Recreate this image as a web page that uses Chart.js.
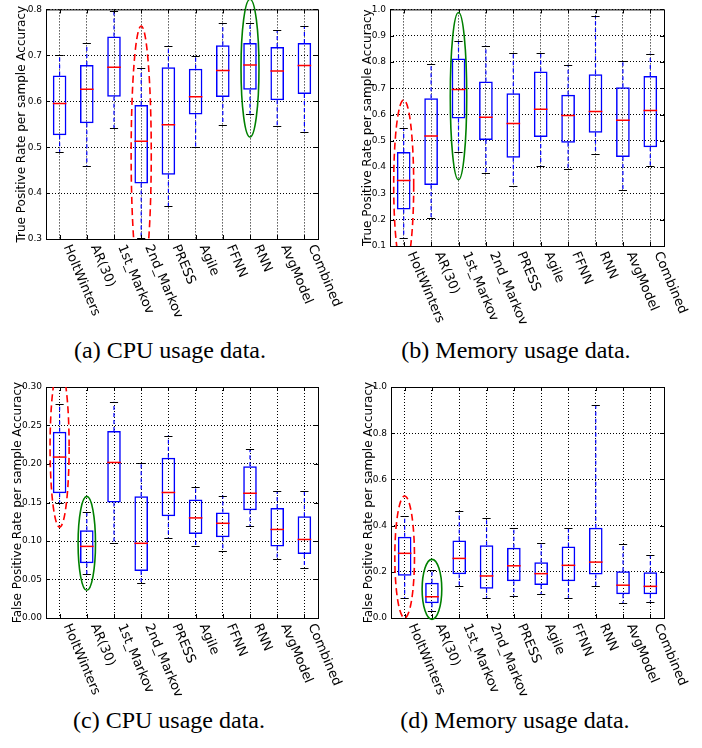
<!DOCTYPE html>
<html>
<head>
<meta charset="utf-8">
<script src="https://cdn.jsdelivr.net/npm/chart.js@4.4.1/dist/chart.umd.min.js"></script>
<style>
  body { margin: 0; background: #fff; width: 702px; height: 748px; position: relative; overflow: hidden; }
  canvas { position: absolute; }
  .cap { position: absolute; width: 300px; text-align: center; font: 24px 'Liberation Serif', 'Times New Roman', serif; line-height: 24px; color: #000; white-space: nowrap; }
</style>
</head>
<body>
<canvas id="cpuTpr" width="351" height="335" style="left:0;top:0"></canvas>
<canvas id="memTpr" width="351" height="335" style="left:351px;top:0"></canvas>
<canvas id="cpuFpr" width="351" height="335" style="left:0;top:370px"></canvas>
<canvas id="memFpr" width="351" height="335" style="left:351px;top:370px"></canvas>
<div class="cap" style="left:20px;top:338px">(a) CPU usage data.</div>
<div class="cap" style="left:366px;top:338px">(b) Memory usage data.</div>
<div class="cap" style="left:19px;top:708px">(c) CPU usage data.</div>
<div class="cap" style="left:365px;top:708px">(d) Memory usage data.</div>
<script>
const categories = ['HoltWinters', 'AR(30)', '1st_Markov', '2nd_Markov', 'PRESS', 'Agile', 'FFNN', 'RNN', 'AvgModel', 'Combined'];

// (a) CPU - true positive rate
const cpuTprLow  = [0.490, 0.458, 0.541, 0.303, 0.371, 0.501, 0.549, 0.573, 0.547, 0.534];
const cpuTprQ1   = [0.526, 0.552, 0.610, 0.421, 0.440, 0.571, 0.609, 0.625, 0.602, 0.616];
const cpuTprMed  = [0.595, 0.626, 0.674, 0.513, 0.549, 0.610, 0.667, 0.679, 0.666, 0.678];
const cpuTprQ3   = [0.656, 0.679, 0.741, 0.592, 0.674, 0.671, 0.722, 0.727, 0.718, 0.727];
const cpuTprHigh = [0.700, 0.727, 0.796, 0.672, 0.721, 0.698, 0.770, 0.770, 0.755, 0.764];

// (b) memory - true positive rate
const memTprLow  = [0.131, 0.207, 0.459, 0.378, 0.329, 0.406, 0.393, 0.451, 0.314, 0.406];
const memTprQ1   = [0.239, 0.332, 0.585, 0.503, 0.436, 0.515, 0.493, 0.531, 0.439, 0.476];
const memTprMed  = [0.349, 0.518, 0.695, 0.590, 0.566, 0.620, 0.596, 0.612, 0.578, 0.615];
const memTprQ3   = [0.458, 0.662, 0.813, 0.726, 0.681, 0.764, 0.675, 0.753, 0.704, 0.747];
const memTprHigh = [0.548, 0.794, 0.881, 0.862, 0.834, 0.834, 0.789, 0.976, 0.804, 0.832];

// (c) CPU - false positive rate
const cpuFprLow  = [0.150, 0.057, 0.097, 0.046, 0.104, 0.094, 0.087, 0.119, 0.077, 0.065];
const cpuFprQ1   = [0.162, 0.071, 0.150, 0.061, 0.132, 0.109, 0.105, 0.140, 0.093, 0.083];
const cpuFprMed  = [0.209, 0.093, 0.202, 0.097, 0.163, 0.130, 0.123, 0.162, 0.115, 0.102];
const cpuFprQ3   = [0.242, 0.114, 0.243, 0.158, 0.208, 0.154, 0.137, 0.197, 0.143, 0.132];
const cpuFprHigh = [0.278, 0.138, 0.281, 0.201, 0.237, 0.170, 0.159, 0.219, 0.165, 0.165];

// (d) memory - false positive rate
const memFprLow  = [0.087, 0.030, 0.140, 0.088, 0.094, 0.103, 0.085, 0.137, 0.064, 0.068];
const memFprQ1   = [0.183, 0.064, 0.189, 0.127, 0.159, 0.143, 0.159, 0.188, 0.103, 0.103];
const memFprMed  = [0.280, 0.092, 0.258, 0.182, 0.226, 0.192, 0.228, 0.242, 0.142, 0.137];
const memFprQ3   = [0.352, 0.153, 0.335, 0.315, 0.304, 0.241, 0.309, 0.391, 0.202, 0.198];
const memFprHigh = [0.440, 0.206, 0.462, 0.434, 0.391, 0.326, 0.391, 0.922, 0.322, 0.271];

// y ticks
const yTicksA = [0.3, 0.4, 0.5, 0.6, 0.7, 0.8];
const yLabelsA = ['0.3', '0.4', '0.5', '0.6', '0.7', '0.8'];
const yTicksB = [0.1, 0.2, 0.3, 0.4, 0.5, 0.6, 0.7, 0.8, 0.9, 1.0];
const yLabelsB = ['0.1', '0.2', '0.3', '0.4', '0.5', '0.6', '0.7', '0.8', '0.9', '1.0'];
const yTicksC = [0, 0.05, 0.10, 0.15, 0.20, 0.25, 0.30];
const yLabelsC = ['0.00', '0.05', '0.10', '0.15', '0.20', '0.25', '0.30'];
const yTicksD = [0, 0.2, 0.4, 0.6, 0.8, 1.0];
const yLabelsD = ['0.0', '0.2', '0.4', '0.6', '0.8', '1.0'];

const FONT = "'DejaVu Sans', 'Bitstream Vera Sans', sans-serif";

function makePanel(id, p) {
  const canvas = document.getElementById(id);
  const W = canvas.width, H = canvas.height;

  const extras = {
    id: 'boxExtras',
    afterDatasetsDraw(chart) {
      const ctx = chart.ctx;
      const xs = chart.scales.x, ys = chart.scales.y;
      const ca = chart.chartArea;
      const step = xs.getPixelForValue(1) - xs.getPixelForValue(0);
      const boxW = step * 0.5, capW = step * 0.3;

      ctx.save();
      ctx.beginPath();
      ctx.rect(ca.left, ca.top, ca.right - ca.left, ca.bottom - ca.top);
      ctx.clip();
      for (let i = 0; i < categories.length; i++) {
        const x = xs.getPixelForValue(i);
        // whiskers
        ctx.strokeStyle = '#0000ff';
        ctx.lineWidth = 1.2;
        ctx.setLineDash([4, 3]);
        ctx.beginPath();
        ctx.moveTo(x, ys.getPixelForValue(p.q3[i]));
        ctx.lineTo(x, ys.getPixelForValue(p.high[i]));
        ctx.moveTo(x, ys.getPixelForValue(p.q1[i]));
        ctx.lineTo(x, ys.getPixelForValue(p.low[i]));
        ctx.stroke();
        ctx.setLineDash([]);
        // caps
        ctx.strokeStyle = '#000';
        ctx.lineWidth = 1;
        ctx.beginPath();
        [p.high[i], p.low[i]].forEach(v => {
          const y = Math.round(ys.getPixelForValue(v)) + 0.5;
          ctx.moveTo(x - capW / 2, y);
          ctx.lineTo(x + capW / 2, y);
        });
        ctx.stroke();
        // median
        ctx.strokeStyle = '#ff0000';
        ctx.lineWidth = 1.5;
        ctx.beginPath();
        const ym = ys.getPixelForValue(p.med[i]);
        ctx.moveTo(x - boxW / 2, ym);
        ctx.lineTo(x + boxW / 2, ym);
        ctx.stroke();
      }
      ctx.restore();

      // frame and inner ticks
      ctx.save();
      ctx.strokeStyle = '#000';
      ctx.lineWidth = 1;
      ctx.strokeRect(ca.left + 0.5, ca.top + 0.5, ca.right - ca.left, ca.bottom - ca.top);
      ctx.beginPath();
      p.yTicks.forEach(v => {
        const y = Math.round(ys.getPixelForValue(v)) + 0.5;
        ctx.moveTo(ca.left, y); ctx.lineTo(ca.left + 4, y);
        ctx.moveTo(ca.right, y); ctx.lineTo(ca.right - 4, y);
      });
      for (let i = 0; i < categories.length; i++) {
        const x = Math.round(xs.getPixelForValue(i)) + 0.5;
        ctx.moveTo(x, ca.bottom); ctx.lineTo(x, ca.bottom - 4);
        ctx.moveTo(x, ca.top); ctx.lineTo(x, ca.top + 4);
      }
      ctx.stroke();
      ctx.restore();

      // highlight ellipses
      p.ellipses.forEach(e => {
        ctx.save();
        if (e.clip) {
          ctx.beginPath();
          ctx.rect(ca.left, ca.top, ca.right - ca.left, ca.bottom - ca.top);
          ctx.clip();
        }
        const cx = xs.getPixelForValue(e.cat);
        const cy = ys.getPixelForValue(e.y);
        const ry = Math.abs(ys.getPixelForValue(e.y + e.ry) - cy);
        ctx.strokeStyle = e.color;
        ctx.lineWidth = 1.6;
        ctx.setLineDash(e.dashed ? [7, 4] : []);
        ctx.beginPath();
        ctx.ellipse(cx, cy, step * e.rx, ry, 0, 0, Math.PI * 2);
        ctx.stroke();
        ctx.restore();
      });

      // y axis title (drawn by hand so it is not squeezed to the axis height)
      ctx.save();
      ctx.fillStyle = '#000';
      ctx.font = '12px ' + FONT;
      ctx.textAlign = 'center';
      ctx.textBaseline = 'middle';
      ctx.translate(p.titleX, (ca.top + ca.bottom) / 2);
      ctx.rotate(-Math.PI / 2);
      ctx.fillText(p.yTitle, 0, 0);
      ctx.restore();

      // rotated category labels
      ctx.save();
      ctx.fillStyle = '#000';
      ctx.font = '13px ' + FONT;
      ctx.textAlign = 'left';
      ctx.textBaseline = 'middle';
      categories.forEach((c, i) => {
        const x = xs.getPixelForValue(i);
        ctx.save();
        ctx.translate(x + 7, ca.bottom + 6.5);
        ctx.rotate(67 * Math.PI / 180);
        ctx.fillText(c, 0, 0);
        ctx.restore();
      });
      ctx.restore();
    }
  };

  return new Chart(canvas.getContext('2d'), {
    type: 'bar',
    data: {
      labels: categories,
      datasets: [{
        data: p.q1.map((v, i) => [v, p.q3[i]]),
        backgroundColor: 'rgba(0,0,0,0)',
        borderColor: '#0000ff',
        borderWidth: 1.5,
        borderSkipped: false,
        barPercentage: 0.5,
        categoryPercentage: 1.0
      }]
    },
    options: {
      responsive: false,
      animation: false,
      events: [],
      layout: { padding: { left: 0, top: p.area.top, right: W - p.area.right, bottom: 0 } },
      plugins: { legend: { display: false }, tooltip: { enabled: false } },
      scales: {
        x: {
          type: 'category',
          offset: true,
          ticks: { display: false },
          grid: { offset: false, color: '#000', lineWidth: 1, drawTicks: false },
          border: { display: false, dash: [1, 2] },
          afterFit: s => { s.height = H - p.area.bottom; }
        },
        y: {
          type: 'linear',
          min: p.yTicks[0],
          max: p.yTicks[p.yTicks.length - 1],
          afterBuildTicks: s => { s.ticks = p.yTicks.map(v => ({ value: v })); },
          ticks: {
            callback: (v, i) => p.yLabels[i],
            color: '#000',
            padding: 4,
            font: { size: 9, family: FONT }
          },
          grid: { color: '#000', lineWidth: 1, drawTicks: false },
          border: { display: false, dash: [1, 2] },
          title: { display: false },
          afterFit: s => { s.width = p.area.left; }
        }
      }
    },
    plugins: [extras]
  });
}

makePanel('cpuTpr', {
  low: cpuTprLow, q1: cpuTprQ1, med: cpuTprMed, q3: cpuTprQ3, high: cpuTprHigh,
  yTicks: yTicksA, yLabels: yLabelsA,
  yTitle: 'True Positive Rate per sample Accuracy', titleX: 21.5,
  area: { left: 46, top: 7, right: 318, bottom: 239 },
  ellipses: [
    { cat: 3, y: 0.485, ry: 0.279, rx: 0.37, color: '#ff0000', dashed: true, clip: true },
    { cat: 7, y: 0.672, ry: 0.150, rx: 0.33, color: '#008000', dashed: false, clip: false }
  ]
});

makePanel('memTpr', {
  low: memTprLow, q1: memTprQ1, med: memTprMed, q3: memTprQ3, high: memTprHigh,
  yTicks: yTicksB, yLabels: yLabelsB,
  yTitle: 'True Positive Rate per sample Accuracy', titleX: 16.5,
  area: { left: 39, top: 7, right: 313, bottom: 246 },
  ellipses: [
    { cat: 0, y: 0.332, ry: 0.324, rx: 0.365, color: '#ff0000', dashed: true, clip: true },
    { cat: 2, y: 0.670, ry: 0.318, rx: 0.30, color: '#008000', dashed: false, clip: false }
  ]
});

makePanel('cpuFpr', {
  low: cpuFprLow, q1: cpuFprQ1, med: cpuFprMed, q3: cpuFprQ3, high: cpuFprHigh,
  yTicks: yTicksC, yLabels: yLabelsC,
  yTitle: 'False Positive Rate per sample Accuracy', titleX: 18,
  area: { left: 46, top: 17, right: 318, bottom: 248 },
  ellipses: [
    { cat: 0, y: 0.222, ry: 0.104, rx: 0.35, color: '#ff0000', dashed: true, clip: true },
    { cat: 1, y: 0.097, ry: 0.061, rx: 0.32, color: '#008000', dashed: false, clip: false }
  ]
});

makePanel('memFpr', {
  low: memFprLow, q1: memFprQ1, med: memFprMed, q3: memFprQ3, high: memFprHigh,
  yTicks: yTicksD, yLabels: yLabelsD,
  yTitle: 'False Positive Rate per sample Accuracy', titleX: 17.5,
  area: { left: 40, top: 17, right: 313, bottom: 248 },
  ellipses: [
    { cat: 0, y: 0.264, ry: 0.264, rx: 0.36, color: '#ff0000', dashed: true, clip: true },
    { cat: 1, y: 0.124, ry: 0.130, rx: 0.36, color: '#008000', dashed: false, clip: false }
  ]
});
</script>
</body>
</html>
